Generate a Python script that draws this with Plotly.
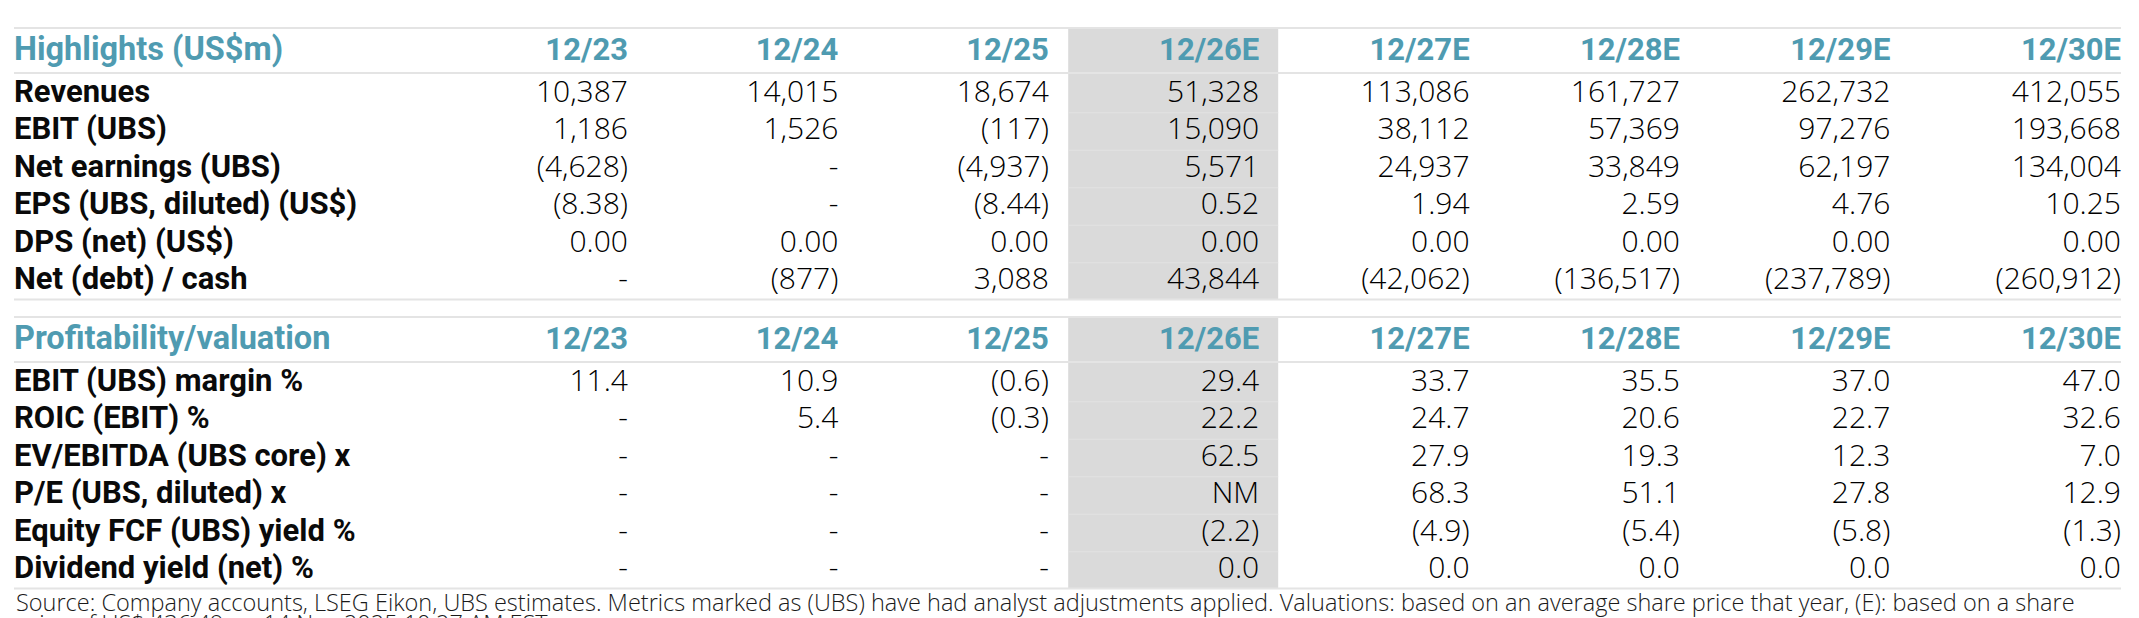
import plotly.graph_objects as go

# Column headers (fiscal years, E = estimate)
years = ["12/23", "12/24", "12/25", "12/26E", "12/27E", "12/28E", "12/29E", "12/30E"]
highlighted_year = "12/26E"

# Highlights (US$m)
hl_title = "Highlights (US$m)"
hl_labels = ["Revenues", "EBIT (UBS)", "Net earnings (UBS)", "EPS (UBS, diluted) (US$)",
             "DPS (net) (US$)", "Net (debt) / cash"]
revenues = [10387, 14015, 18674, 51328, 113086, 161727, 262732, 412055]
ebit = [1186, 1526, -117, 15090, 38112, 57369, 97276, 193668]
net_earnings = [-4628, None, -4937, 5571, 24937, 33849, 62197, 134004]
eps = [-8.38, None, -8.44, 0.52, 1.94, 2.59, 4.76, 10.25]
dps = [0.00, 0.00, 0.00, 0.00, 0.00, 0.00, 0.00, 0.00]
net_cash = [None, -877, 3088, 43844, -42062, -136517, -237789, -260912]
hl_decimals = [0, 0, 0, 2, 2, 0]

# Profitability / valuation
pv_title = "Profitability/valuation"
pv_labels = ["EBIT (UBS) margin %", "ROIC (EBIT) %", "EV/EBITDA (UBS core) x",
             "P/E (UBS, diluted) x", "Equity FCF (UBS) yield %", "Dividend yield (net) %"]
ebit_margin = [11.4, 10.9, -0.6, 29.4, 33.7, 35.5, 37.0, 47.0]
roic = [None, 5.4, -0.3, 22.2, 24.7, 20.6, 22.7, 32.6]
ev_ebitda = [None, None, None, 62.5, 27.9, 19.3, 12.3, 7.0]
pe = [None, None, None, "NM", 68.3, 51.1, 27.8, 12.9]
fcf_yield = [None, None, None, -2.2, -4.9, -5.4, -5.8, -1.3]
div_yield = [None, None, None, 0.0, 0.0, 0.0, 0.0, 0.0]
pv_decimals = [1, 1, 1, 1, 1, 1]

source_lines = [
    "Source: Company accounts, LSEG Eikon, UBS estimates. Metrics marked as (UBS) have had "
    "analyst adjustments applied. Valuations: based on an average share price that year, "
    "(E): based on a share",
    "price of US$ 436.49 on 14 Nov 2025 10:27 AM EST",
]

sections = [
    (hl_title, hl_labels, [revenues, ebit, net_earnings, eps, dps, net_cash], hl_decimals),
    (pv_title, pv_labels, [ebit_margin, roic, ev_ebitda, pe, fcf_yield, div_yield], pv_decimals),
]


def fmt(v, dp):
    if v is None:
        return "-"
    if isinstance(v, str):
        return v
    s = f"{abs(v):,.{dp}f}"
    return f"({s})" if v < 0 else s


# page geometry (pixels)
W, H = 2139, 618
LEFT, RIGHT = 14, 2121
col_x = [628 + 210.4 * i for i in range(len(years) - 1)] + [RIGHT]
section_top = [28, 317]
ROW_PITCH = 37.5

TEAL = "#4f9bb1"
LINE = "#e4e4e4"
SHADE = "#dadada"
title_font = dict(family="Roboto", size=32.5, color=TEAL, weight=700)
head_font = dict(family="Roboto", size=31, color=TEAL, weight=700)
label_font = dict(family="Roboto", size=31, color="#0a0a0a", weight=700)
num_font = dict(family="Open Sans", size=30, color="#000000", weight=300)
note_font = dict(family="Open Sans", size=23.5, color="#1a1a1a", weight=300)

fig = go.Figure()
shapes = []
hi = years.index(highlighted_year)

for (title, labels, rows, decimals), top in zip(sections, section_top):
    head_y = top + 24
    row_y = [top + 66 + ROW_PITCH * i for i in range(len(labels))]
    bottom = row_y[-1] + 18

    # shaded estimate column
    shapes.append(dict(type="rect", xref="x", yref="y", x0=col_x[hi] - 191, x1=col_x[hi] + 19,
                       y0=top, y1=bottom, fillcolor=SHADE, line_width=0, layer="below"))
    for y in row_y[:-1]:
        shapes.append(dict(type="line", xref="x", yref="y", x0=col_x[hi] - 191, x1=col_x[hi] + 19,
                           y0=y + ROW_PITCH / 2, y1=y + ROW_PITCH / 2,
                           line=dict(color="#e2e2e2", width=1), layer="below"))
    # rules
    for y in (top, top + 45, bottom):
        shapes.append(dict(type="line", xref="x", yref="y", x0=LEFT, x1=RIGHT, y0=y, y1=y,
                           line=dict(color=LINE, width=2), layer="below"))

    # header row
    fig.add_trace(go.Scatter(x=[LEFT], y=[head_y], mode="text", text=[title],
                             textposition="middle right", textfont=title_font,
                             hoverinfo="skip", showlegend=False))
    fig.add_trace(go.Scatter(x=col_x, y=[head_y] * len(years), mode="text", text=years,
                             textposition="middle left", textfont=head_font,
                             hoverinfo="skip", showlegend=False))
    # row labels
    fig.add_trace(go.Scatter(x=[LEFT] * len(labels), y=row_y, mode="text", text=labels,
                             textposition="middle right", textfont=label_font,
                             hoverinfo="skip", showlegend=False))
    # values
    for vals, dp, y in zip(rows, decimals, row_y):
        fig.add_trace(go.Scatter(x=col_x, y=[y] * len(vals), mode="text",
                                 text=[fmt(v, dp) for v in vals],
                                 textposition="middle left", textfont=num_font,
                                 hoverinfo="skip", showlegend=False))

# source note on paper coords, second line runs off the bottom edge as in the original
for i, line in enumerate(source_lines):
    fig.add_annotation(x=LEFT / W, y=1 - (602 + 21 * i) / H, xref="paper", yref="paper",
                       xanchor="left", yanchor="middle", text=line, showarrow=False,
                       font=note_font)

fig.update_layout(
    width=W, height=H,
    margin=dict(l=0, r=0, t=0, b=0),
    paper_bgcolor="white", plot_bgcolor="white",
    shapes=shapes,
    xaxis=dict(range=[0, W], visible=False, fixedrange=True),
    yaxis=dict(range=[H, 0], visible=False, fixedrange=True),
)

fig.write_html("out.html", config={"displayModeBar": False},
               post_script="document.body.style.margin='0';")
